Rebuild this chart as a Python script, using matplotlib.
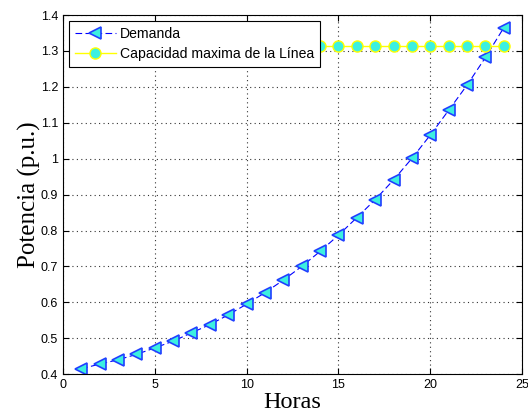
import numpy as np
import matplotlib
matplotlib.use('Agg')
from matplotlib import pyplot as plt

horas = np.arange(1, 25)
demanda = [0.415, 0.428, 0.440, 0.455, 0.473, 0.492, 0.515, 0.538, 0.565, 0.595,
           0.627, 0.662, 0.700, 0.742, 0.787, 0.836, 0.886, 0.941, 1.001, 1.066,
           1.135, 1.205, 1.282, 1.365]
capacidad = [1.313] * 24

plt.rcParams['font.family'] = ['Liberation Sans', 'DejaVu Sans']

fig = plt.figure(figsize=(5.28, 4.19), dpi=100)
ax = fig.add_axes([0.119, 0.107, 0.870, 0.857])

ax.plot(horas, demanda, color='blue', linewidth=0.8, linestyle=(0, (6, 3)),
        marker='<', markersize=8.5,
        markerfacecolor='#3CF0E0', markeredgecolor='#2040FF', markeredgewidth=1.2,
        label='Demanda')
ax.plot(horas, capacidad, '-', color='yellow', linewidth=1, marker='o', markersize=8,
        markerfacecolor='#3CF0E0', markeredgecolor='yellow', markeredgewidth=1,
        label='Capacidad maxima de la Línea')

ax.set_xlim(0, 25)
ax.set_ylim(0.4, 1.4)
ax.set_xticks([0, 5, 10, 15, 20, 25])
ax.set_yticks(np.arange(0.4, 1.41, 0.1))
ax.set_yticklabels(['0.4', '0.5', '0.6', '0.7', '0.8', '0.9', '1', '1.1', '1.2', '1.3', '1.4'])
ax.grid(True, linestyle=(0, (1, 3)), color='#333333', linewidth=0.8)
ax.tick_params(direction='in', top=True, right=True, labelsize=9, length=4)
for s in ax.spines.values():
    s.set_linewidth(0.8)

ax.set_xlabel('Horas', fontsize=17.5, family='Liberation Serif', labelpad=1)
ax.set_ylabel('Potencia (p.u.)', fontsize=18, family='Liberation Serif', labelpad=0)

leg = ax.legend(loc='upper left', fontsize=10.1, fancybox=False, framealpha=1,
                edgecolor='black', borderaxespad=0.45, handlelength=2.9,
                labelspacing=0.42, handletextpad=0.3, borderpad=0.42)
leg.get_frame().set_linewidth(0.8)

plt.savefig('out.png', dpi=100)
